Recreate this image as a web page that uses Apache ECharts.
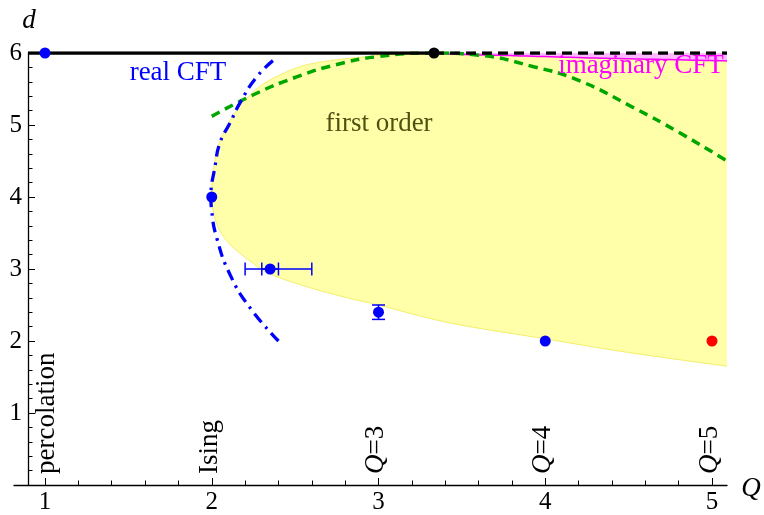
<!DOCTYPE html>
<html>
<head>
<meta charset="utf-8">
<script src="https://cdn.jsdelivr.net/npm/echarts@6/dist/echarts.min.js"></script>
<style>html,body{margin:0;padding:0;background:#fff;}#c{width:764px;height:515px;}</style>
</head>
<body>
<div id="c"></div>
<script>
// ---- data (Q, d) ----
const xTickValues = [1, 2, 3, 4, 5];
const xMinorTickValues = [1.2,1.4,1.6,1.8,2.2,2.4,2.6,2.8,3.2,3.4,3.6,3.8,4.2,4.4,4.6,4.8];
const yTickValues = [1, 2, 3, 4, 5, 6];

// lower/left boundary of the first-order region (from tricritical point downwards)
const firstOrderBoundary = [
  [3.333, 6.0], [3.13, 5.99], [2.93, 5.95], [2.73, 5.9], [2.53, 5.81], [2.33, 5.6],
  [2.21, 5.37], [2.13, 5.14], [2.05, 4.78], [2.015, 4.44], [2.0, 4.1], [2.005, 3.85],
  [2.04, 3.57], [2.11, 3.34], [2.23, 3.11], [2.35, 2.93], [2.59, 2.74], [2.83, 2.59],
  [3.0, 2.5], [3.43, 2.25], [4.0, 2.03], [4.5, 1.84], [5.09, 1.65]
];
// boundary of the imaginary-CFT sliver below d=6
const imaginaryBoundary = [
  [3.333, 6.0], [3.5, 5.98], [3.85, 5.96], [4.3, 5.93], [4.7, 5.91], [5.09, 5.89]
];
// green dashed curve
const greenCurve = [
  [2.0, 5.12], [2.25, 5.42], [2.5, 5.66], [2.75, 5.84], [3.0, 5.95], [3.333, 6.0],
  [3.6, 5.97], [3.93, 5.81], [4.2, 5.62], [4.53, 5.24], [4.8, 4.9], [5.09, 4.5]
];
// blue dash-dot "real CFT" curve
const realCftCurve = [
  [2.40, 2.0], [2.23, 2.46], [2.11, 2.92], [2.03, 3.43], [2.0, 3.8], [1.995, 4.0],
  [2.02, 4.43], [2.05, 4.76], [2.11, 5.03], [2.17, 5.31], [2.27, 5.67], [2.37, 5.9]
];
const upperCriticalSolid = [[0.898, 6], [3.333, 6]];
const upperCriticalDashed = [[3.333, 6], [5.09, 6]];

const bluePoints = [[1, 6], [2, 4], [2.35, 3], [3, 2.4], [4, 2]];
const redPoints = [[5, 2]];
const blackPoints = [[3.333, 6]];
// horizontal error bars: [d, Qlow, Qhigh]
const xErrorBars = [[3, 2.2, 2.6], [3, 2.3, 2.4]];
// vertical error bars: [Q, dlow, dhigh]
const yErrorBars = [[3, 2.3, 2.5]];

// ---- chart ----
const FONT = 'Liberation Serif';
const chart = echarts.init(document.getElementById('c'), null, {renderer: 'canvas'});

// Catmull-Rom smoothing of pixel points for drawing only
function smoothPixels(px) {
  const out = [];
  const n = px.length;
  for (let i = 0; i < n - 1; i++) {
    const p0 = px[Math.max(0, i - 1)], p1 = px[i], p2 = px[i + 1], p3 = px[Math.min(n - 1, i + 2)];
    const steps = 12;
    for (let s = 0; s < steps; s++) {
      const t = s / steps, t2 = t * t, t3 = t2 * t;
      out.push([
        0.5 * ((2 * p1[0]) + (-p0[0] + p2[0]) * t + (2 * p0[0] - 5 * p1[0] + 4 * p2[0] - p3[0]) * t2 + (-p0[0] + 3 * p1[0] - 3 * p2[0] + p3[0]) * t3),
        0.5 * ((2 * p1[1]) + (-p0[1] + p2[1]) * t + (2 * p0[1] - 5 * p1[1] + 4 * p2[1] - p3[1]) * t2 + (-p0[1] + 3 * p1[1] - 3 * p2[1] + p3[1]) * t3)
      ]);
    }
  }
  out.push(px[n - 1]);
  return out;
}

// yellow region: bounded by the first-order boundary and the imaginary boundary
const firstOrderRegion = {
  type: 'custom', coordinateSystem: 'cartesian2d', silent: true, z: 1,
  data: [firstOrderBoundary[0]],
  renderItem: function (params, api) {
    const lower = smoothPixels(firstOrderBoundary.map(p => api.coord(p)));
    const upper = smoothPixels(imaginaryBoundary.map(p => api.coord(p)));
    const poly = lower.slice().reverse().concat(upper.slice(1));
    return {type: 'group', children: [
      {type: 'polygon', shape: {points: poly}, style: {fill: '#ffffaa'}},
      {type: 'polyline', shape: {points: lower}, style: {stroke: '#f4ee6a', lineWidth: 1, fill: null}}
    ]};
  }
};
const imaginaryRegion = {
  type: 'custom', coordinateSystem: 'cartesian2d', silent: true, z: 3,
  data: [imaginaryBoundary[0]],
  renderItem: function (params, api) {
    const curve = smoothPixels(imaginaryBoundary.map(p => api.coord(p)));
    const last = imaginaryBoundary[imaginaryBoundary.length - 1];
    const poly = curve.concat([api.coord([last[0], 6])]);
    return {type: 'group', children: [
      {type: 'polygon', shape: {points: poly}, style: {fill: '#ffbbff'}},
      {type: 'polyline', shape: {points: curve}, style: {stroke: '#ff00ff', lineWidth: 1.5, fill: null}}
    ]};
  }
};

function lineSeries(data, color, width, type, smooth, z) {
  return {type: 'line', data: data, symbol: 'none', smooth: smooth, z: z, silent: true,
    lineStyle: {color: color, width: width, type: type, cap: 'butt'}};
}
function scatterSeries(data, color, size, z) {
  return {type: 'scatter', data: data, symbolSize: size, z: z, silent: true,
    itemStyle: {color: color, opacity: 1}};
}

const errColor = '#0000ff';
const errorSeries = {
  type: 'custom', coordinateSystem: 'cartesian2d', silent: true, z: 8,
  data: xErrorBars.map(e => [e[1], e[0], e[2], 0]).concat(yErrorBars.map(e => [e[0], e[1], e[2], 1])),
  renderItem: function (params, api) {
    const kind = api.value(3);
    const cap = 6.5;
    const st = {stroke: errColor, lineWidth: 1.5};
    if (kind === 0) {
      const a = api.coord([api.value(0), api.value(1)]);
      const b = api.coord([api.value(2), api.value(1)]);
      return {type: 'group', children: [
        {type: 'line', shape: {x1: a[0], y1: a[1], x2: b[0], y2: b[1]}, style: st},
        {type: 'line', shape: {x1: a[0], y1: a[1] - cap, x2: a[0], y2: a[1] + cap}, style: st},
        {type: 'line', shape: {x1: b[0], y1: b[1] - cap, x2: b[0], y2: b[1] + cap}, style: st}
      ]};
    } else {
      const a = api.coord([api.value(0), api.value(1)]);
      const b = api.coord([api.value(0), api.value(2)]);
      return {type: 'group', children: [
        {type: 'line', shape: {x1: a[0], y1: a[1], x2: b[0], y2: b[1]}, style: st},
        {type: 'line', shape: {x1: a[0] - cap, y1: a[1], x2: a[0] + cap, y2: a[1]}, style: st},
        {type: 'line', shape: {x1: b[0] - cap, y1: b[1], x2: b[0] + cap, y2: b[1]}, style: st}
      ]};
    }
  }
};

const XMIN = 0.814, XMAX = 5.09;

function vlabel(text, x, rich) {
  return {type: 'text', x: x, y: 474, rotation: Math.PI / 2, z: 100,
    style: {text: text, fontSize: 27, fontFamily: FONT, fill: '#000', align: 'left', verticalAlign: 'middle',
      rich: rich ? {i: {fontStyle: 'italic', fontSize: 27, fontFamily: FONT, fill: '#000'},
                    n: {fontSize: 27, fontFamily: FONT, fill: '#000'}} : undefined}};
}

chart.setOption({
  animation: false,
  backgroundColor: '#ffffff',
  textStyle: {fontFamily: FONT},
  grid: {left: 14, right: 37, top: 53, bottom: 26, containLabel: false},
  xAxis: [{
    type: 'value', min: XMIN, max: XMAX,
    axisLine: {show: true, lineStyle: {color: '#000', width: 1.3}},
    axisTick: {show: true, inside: true, length: 7, customValues: xTickValues, lineStyle: {color: '#000', width: 1}},
    axisLabel: {show: true, customValues: xTickValues, margin: 5, fontSize: 25, fontFamily: FONT, color: '#000'},
    splitLine: {show: false}
  }, {
    type: 'value', min: XMIN, max: XMAX, position: 'bottom',
    axisLine: {show: false},
    axisTick: {show: true, inside: true, length: 4.5, customValues: xMinorTickValues, lineStyle: {color: '#000', width: 1}},
    axisLabel: {show: false},
    splitLine: {show: false}
  }],
  yAxis: {
    type: 'value', min: 0, max: 6, interval: 1, offset: -14,
    axisLine: {show: true, lineStyle: {color: '#000', width: 1.3}},
    axisTick: {show: true, inside: true, length: 7, customValues: yTickValues, lineStyle: {color: '#000', width: 1}},
    minorTick: {show: true, splitNumber: 5, length: 4.5, lineStyle: {color: '#000', width: 1}},
    axisLabel: {show: true, customValues: yTickValues, margin: 6, fontSize: 25, fontFamily: FONT, color: '#000'},
    splitLine: {show: false}
  },
  series: [
    firstOrderRegion,
    imaginaryRegion,
    lineSeries(greenCurve, '#00a600', 3.5, [9, 6], true, 5),
    lineSeries(realCftCurve, '#0000ff', 3.3, [11, 6, 2.5, 6], true, 5),
    lineSeries(upperCriticalSolid, '#000', 3.5, 'solid', false, 6),
    lineSeries(upperCriticalDashed, '#000', 3.5, [10, 6], false, 6),
    errorSeries,
    scatterSeries(bluePoints, '#0000ff', 11, 9),
    scatterSeries(redPoints, '#ff0000', 11, 9),
    scatterSeries(blackPoints, '#000000', 11, 9)
  ],
  graphic: [
    {type: 'text', x: 29, y: 21, z: 100, style: {text: 'd', fontSize: 27, fontStyle: 'italic', fontFamily: FONT, fill: '#000', align: 'center', verticalAlign: 'middle'}},
    {type: 'text', x: 751, y: 489, z: 100, style: {text: 'Q', fontSize: 27, fontStyle: 'italic', fontFamily: FONT, fill: '#000', align: 'center', verticalAlign: 'middle'}},
    {type: 'text', x: 178, y: 73, z: 100, style: {text: 'real CFT', fontSize: 27, fontFamily: FONT, fill: '#0000ff', align: 'center', verticalAlign: 'middle'}},
    {type: 'text', x: 379, y: 124, z: 100, style: {text: 'first order', fontSize: 27, fontFamily: FONT, fill: '#505012', align: 'center', verticalAlign: 'middle'}},
    {type: 'text', x: 641, y: 66, z: 100, style: {text: 'imaginary CFT', fontSize: 27, fontFamily: FONT, fill: '#ff00ff', align: 'center', verticalAlign: 'middle'}},
    vlabel('percolation', 47, false),
    vlabel('Ising', 210, false),
    vlabel('{i|Q}{n|=3}', 376, true),
    vlabel('{i|Q}{n|=4}', 543, true),
    vlabel('{i|Q}{n|=5}', 710, true)
  ]
});
</script>
</body>
</html>
